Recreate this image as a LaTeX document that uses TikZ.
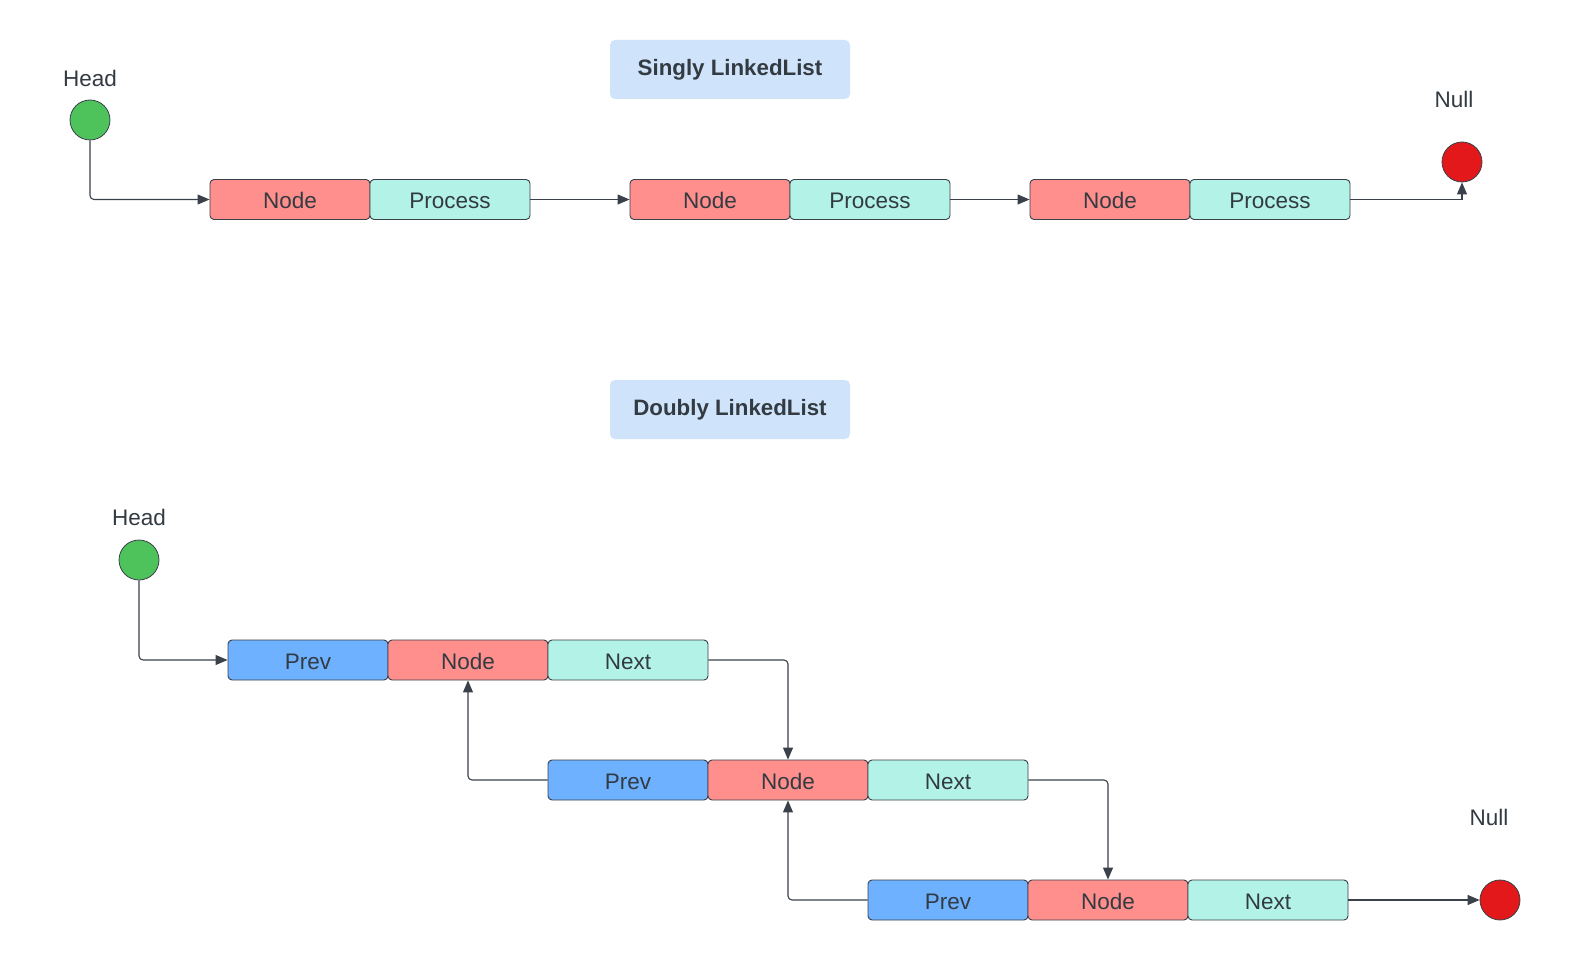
\documentclass[tikz,border=0pt]{standalone}
\usepackage{fontspec}
\setmainfont{Liberation Sans}
\usetikzlibrary{arrows.meta}

\definecolor{ink}{HTML}{3A414A}
\definecolor{txt}{HTML}{333A42}
\definecolor{nodered}{HTML}{FF8F8C}
\definecolor{procgreen}{HTML}{B3F2E7}
\definecolor{prevblue}{HTML}{6DB1FF}
\definecolor{titlebg}{HTML}{CFE4FA}
\definecolor{headgreen}{HTML}{4EC35C}
\definecolor{nullred}{HTML}{E2181B}

\begin{document}
\begin{tikzpicture}[x=1pt,y=-1pt,
  cell/.style={draw=ink, line width=0.9pt, rounded corners=4pt,
    minimum width=160pt, minimum height=40pt, inner sep=0pt,
    text height=18.5pt, text depth=0pt,
    font=\fontsize{22.5}{26}\selectfont, text=txt},
  nodecell/.style={cell, fill=nodered},
  proccell/.style={cell, fill=procgreen},
  prevcell/.style={cell, fill=prevblue},
  dot/.style={circle, draw=ink, line width=0.8pt, minimum size=40pt, inner sep=0pt},
  lbl/.style={font=\fontsize{22.5}{26}\selectfont, text=txt},
  titlebox/.style={fill=titlebg, rounded corners=5pt, minimum width=240pt,
    minimum height=59pt, inner sep=0pt,
    font=\bfseries\fontsize{22.3}{26}\selectfont, text=txt},
  link/.style={draw=ink, line width=1.1pt, rounded corners=4pt,
    -{Triangle[length=12pt,width=10pt]}}
]
\useasboundingbox[fill=white] (0,0) rectangle (1580,960);

% ---------- singly linked list ----------
\node[titlebox] (t1) at (730,69.5) {Singly LinkedList};

\node[lbl] (h1lbl) at (90,78) {Head};
\node[dot, fill=headgreen] (h1) at (90,120) {};

\node[nodecell] (s1n) at (290,199.5) {Node};
\node[proccell] (s1p) at (450,199.5) {Process};
\node[nodecell] (s2n) at (710,199.5) {Node};
\node[proccell] (s2p) at (870,199.5) {Process};
\node[nodecell] (s3n) at (1110,199.5) {Node};
\node[proccell] (s3p) at (1270,199.5) {Process};

\node[lbl] (z1lbl) at (1454,99) {Null};
\node[dot, fill=nullred] (z1) at (1462,162) {};

\draw[link] (h1.south) |- (s1n.west);
\draw[link] (s1p.east) -- (s2n.west);
\draw[link] (s2p.east) -- (s3n.west);
\draw[link, rounded corners=0pt] (s3p.east) -| (z1.south);

% ---------- doubly linked list ----------
\node[titlebox] (t2) at (730,409.5) {Doubly LinkedList};

\node[lbl] (h2lbl) at (139,517) {Head};
\node[dot, fill=headgreen] (h2) at (139,560) {};

\node[prevcell] (d1p) at (308,660) {Prev};
\node[nodecell] (d1n) at (468,660) {Node};
\node[proccell] (d1x) at (628,660) {Next};

\node[prevcell] (d2p) at (628,780) {Prev};
\node[nodecell] (d2n) at (788,780) {Node};
\node[proccell] (d2x) at (948,780) {Next};

\node[prevcell] (d3p) at (948,900) {Prev};
\node[nodecell] (d3n) at (1108,900) {Node};
\node[proccell] (d3x) at (1268,900) {Next};

\node[lbl] (z2lbl) at (1489,817) {Null};
\node[dot, fill=nullred] (z2) at (1500,900) {};

\draw[link] (h2.south) |- (d1p.west);
\draw[link] (d1x.east) -| (d2n.north);
\draw[link] (d2p.west) -| (d1n.south);
\draw[link] (d2x.east) -| (d3n.north);
\draw[link] (d3p.west) -| (d2n.south);
\draw[link] (d3x.east) -- (z2.west);
\end{tikzpicture}
\end{document}
